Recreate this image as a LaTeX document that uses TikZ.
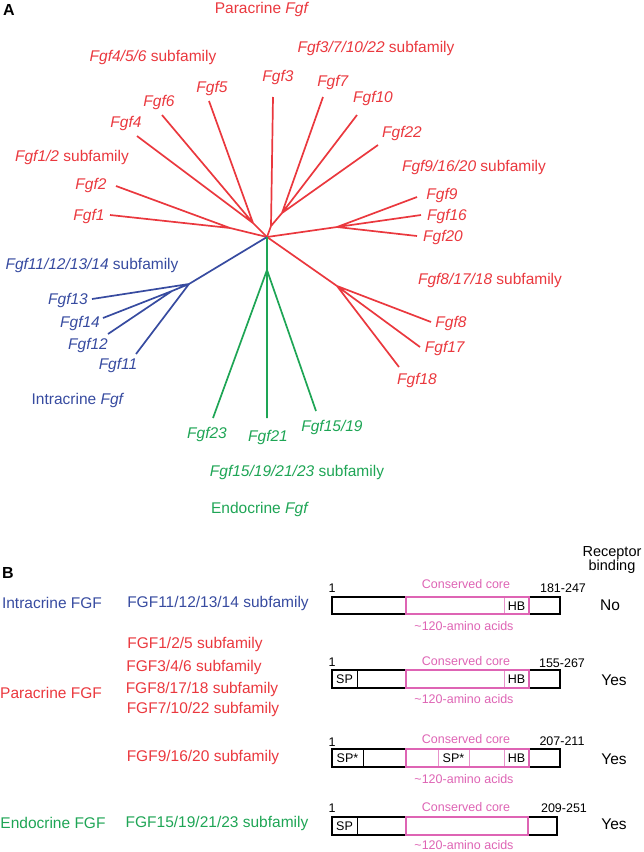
\documentclass[tikz,border=0pt]{standalone}
\usepackage{fontspec}
\setmainfont{Liberation Sans}
\definecolor{fr}{RGB}{234,56,62}
\definecolor{fb}{RGB}{55,75,160}
\definecolor{fg}{RGB}{30,165,85}
\definecolor{fp}{RGB}{222,100,180}
\begin{document}
\begin{tikzpicture}[x=1pt,y=-1pt,
  lab/.style={inner sep=0pt, font=\fontsize{15.5}{18}\selectfont},
  sml/.style={inner sep=0pt, font=\fontsize{12.5}{14}\selectfont},
  rl/.style={lab, text=fr}, bl/.style={lab, text=fb}, gl/.style={lab, text=fg},
  rline/.style={draw=fr, line width=1.7pt},
  bline/.style={draw=fb, line width=1.7pt},
  gline/.style={draw=fg, line width=1.7pt},
  blk/.style={draw=black, line width=1.4pt},
  pkb/.style={draw=fp, line width=1.4pt},
  pkdiv/.style={draw=fp!70, line width=0.6pt},
  bkdiv/.style={draw=black, line width=0.7pt}]
\useasboundingbox (0,0) rectangle (644,852);

% ---------- Part A ----------
\node[inner sep=0pt, font=\fontsize{16}{18}\selectfont\bfseries] (A) at (9,10) {A};

% branch points
\coordinate (root) at (267,237);
\coordinate (n12) at (230,228);
\coordinate (n456) at (253,223);
\coordinate (n3) at (271,226);
\coordinate (n7) at (282,213);
\coordinate (n9) at (337,227);
\coordinate (n8) at (337,286);
\coordinate (nb) at (189,284);
\coordinate (nb2) at (172,291);
\coordinate (ng) at (267,270);
% leaf ends
\coordinate (e1) at (110,215);
\coordinate (e2) at (116,186);
\coordinate (e4) at (137,136);
\coordinate (e6) at (162,115);
\coordinate (e5) at (209,101);
\coordinate (e3) at (273,97);
\coordinate (e7) at (323,97);
\coordinate (e10) at (357,115);
\coordinate (e22) at (378,145);
\coordinate (e9) at (417,197);
\coordinate (e16) at (421,215);
\coordinate (e20) at (417,236);
\coordinate (e8) at (431,322);
\coordinate (e17) at (420,347);
\coordinate (e18) at (399,367);
\coordinate (e13) at (92,299);
\coordinate (e14) at (103,318);
\coordinate (e12) at (108,334);
\coordinate (e11) at (136,354);
\coordinate (e23) at (213,418);
\coordinate (e21) at (267,418);
\coordinate (e1519) at (316,411);

% red branches
\draw[rline] (root) -- (n12) (n12) -- (e1) (n12) -- (e2);
\draw[rline] (root) -- (n456) (n456) -- (e4) (n456) -- (e6) (n456) -- (e5);
\draw[rline] (root) -- (n3) (n3) -- (e3) (n3) -- (n7) (n7) -- (e7) (n7) -- (e10) (n7) -- (e22);
\draw[rline] (root) -- (n9) (n9) -- (e9) (n9) -- (e16) (n9) -- (e20);
\draw[rline] (root) -- (n8) (n8) -- (e8) (n8) -- (e17) (n8) -- (e18);
% blue branches
\draw[bline] (root) -- (nb) (nb) -- (e13) (nb) -- (nb2) (nb2) -- (e14) (nb2) -- (e12) (nb) -- (e11);
% green branches
\draw[gline] (root) -- (ng) (ng) -- (e23) (ng) -- (e21) (ng) -- (e1519);

% red labels
\node[rl] (tpara) at (262,9) {Paracrine \textit{Fgf}};
\node[rl] (s456) at (153,57) {\textit{Fgf4/5/6} subfamily};
\node[rl] (s371022) at (376,48) {\textit{Fgf3/7/10/22} subfamily};
\node[rl] (s12) at (72,157) {\textit{Fgf1/2} subfamily};
\node[rl] (s91620) at (474,167) {\textit{Fgf9/16/20} subfamily};
\node[rl] (s81718) at (490,280) {\textit{Fgf8/17/18} subfamily};
\node[rl] (l3) at (278,77) {\textit{Fgf3}};
\node[rl] (l5) at (212,88) {\textit{Fgf5}};
\node[rl] (l6) at (159,102) {\textit{Fgf6}};
\node[rl] (l4) at (126,123) {\textit{Fgf4}};
\node[rl] (l2) at (91,185) {\textit{Fgf2}};
\node[rl] (l1) at (89,216) {\textit{Fgf1}};
\node[rl] (l7) at (333,82) {\textit{Fgf7}};
\node[rl] (l10) at (373,98) {\textit{Fgf10}};
\node[rl] (l22) at (402,133) {\textit{Fgf22}};
\node[rl] (l9) at (442,195) {\textit{Fgf9}};
\node[rl] (l16) at (447,216) {\textit{Fgf16}};
\node[rl] (l20) at (443,237) {\textit{Fgf20}};
\node[rl] (l8) at (451,323) {\textit{Fgf8}};
\node[rl] (l17) at (445,348) {\textit{Fgf17}};
\node[rl] (l18) at (417,380) {\textit{Fgf18}};
% blue labels
\node[bl] (s11) at (92,265) {\textit{Fgf11/12/13/14} subfamily};
\node[bl] (l13) at (68,300) {\textit{Fgf13}};
\node[bl] (l14) at (80,323) {\textit{Fgf14}};
\node[bl] (l12) at (88,345) {\textit{Fgf12}};
\node[bl] (l11) at (118,365) {\textit{Fgf11}};
\node[bl] (tintra) at (78,400) {Intracrine \textit{Fgf}};
% green labels
\node[gl] (l23) at (207,434) {\textit{Fgf23}};
\node[gl] (l21) at (268,437) {\textit{Fgf21}};
\node[gl] (l1519) at (332,427) {\textit{Fgf15/19}};
\node[gl] (s15) at (297,472) {\textit{Fgf15/19/21/23} subfamily};
\node[gl] (tendo) at (260,509) {Endocrine \textit{Fgf}};

% ---------- Part B ----------
\node[inner sep=0pt, font=\fontsize{16}{18}\selectfont\bfseries] (B) at (8,573) {B};
\node[lab, align=center, font=\fontsize{14.5}{13}\selectfont] (rec) at (612,560) {Receptor\\binding};

\node[bl] (bintra) at (52,603) {Intracrine FGF};
\node[bl] (b11) at (218,603) {FGF11/12/13/14 subfamily};
\node[rl] (b125) at (195,644) {FGF1/2/5 subfamily};
\node[rl] (b346) at (194,667) {FGF3/4/6 subfamily};
\node[rl] (bpara) at (51,693) {Paracrine FGF};
\node[rl] (b81718) at (202,689) {FGF8/17/18 subfamily};
\node[rl] (b71022) at (203,709) {FGF7/10/22 subfamily};
\node[rl] (b91620) at (203,757) {FGF9/16/20 subfamily};
\node[gl] (bendo) at (53,823) {Endocrine FGF};
\node[gl] (b15) at (217,823) {FGF15/19/21/23 subfamily};

% row 1
\draw[blk] (332,597) rectangle (406,614);
\draw[blk] (529,597) rectangle (560,614);
\draw[pkb] (406,597) rectangle (529,614);
\draw[pkdiv] (504,598) -- (504,613);
\node[sml] (hb1) at (516.5,606) {HB};
\node[sml] (one1) at (332,588) {1};
\node[sml, text=fp] (cc1) at (466,584) {Conserved core};
\node[sml, text=fp] (aa1) at (464,626) {\textasciitilde 120-amino acids};
\node[sml] (len1) at (563,588) {181-247};
\node[lab] (no1) at (610,605) {No};

% row 2
\draw[blk] (332,670) rectangle (406,688);
\draw[blk] (529,670) rectangle (560,688);
\draw[pkb] (406,670) rectangle (529,688);
\draw[bkdiv] (357,671) -- (357,687);
\draw[pkdiv] (504,671) -- (504,687);
\node[sml] (sp2) at (344.5,679) {SP};
\node[sml] (hb2) at (516.5,679) {HB};
\node[sml] (one2) at (332,662) {1};
\node[sml, text=fp] (cc2) at (466,661) {Conserved core};
\node[sml, text=fp] (aa2) at (464,699) {\textasciitilde 120-amino acids};
\node[sml] (len2) at (562,663) {155-267};
\node[lab] (yes2) at (614,680) {Yes};

% row 3
\draw[blk] (332,749) rectangle (406,767);
\draw[blk] (529,749) rectangle (560,767);
\draw[pkb] (406,749) rectangle (529,767);
\draw[bkdiv] (363,750) -- (363,766);
\draw[pkdiv] (438,750) -- (438,766);
\draw[pkdiv] (469,750) -- (469,766);
\draw[pkdiv] (504,750) -- (504,766);
\node[sml] (sp3) at (347.5,758) {SP*};
\node[sml] (spc3) at (453.5,758) {SP*};
\node[sml] (hb3) at (516.5,758) {HB};
\node[sml] (one3) at (332,742) {1};
\node[sml, text=fp] (cc3) at (466,739) {Conserved core};
\node[sml, text=fp] (aa3) at (464,779) {\textasciitilde 120-amino acids};
\node[sml] (len3) at (562,741) {207-211};
\node[lab] (yes3) at (614,759) {Yes};

% row 4
\draw[blk] (332,817) rectangle (406,835);
\draw[blk] (528,817) rectangle (557,835);
\draw[pkb] (406,817) rectangle (528,835);
\draw[bkdiv] (357,818) -- (357,834);
\node[sml] (sp4) at (344.5,826) {SP};
\node[sml] (one4) at (332,808) {1};
\node[sml, text=fp] (cc4) at (466,807) {Conserved core};
\node[sml, text=fp] (aa4) at (464,845) {\textasciitilde 120-amino acids};
\node[sml] (len4) at (564,808) {209-251};
\node[lab] (yes4) at (614,824) {Yes};
\end{tikzpicture}
\end{document}
